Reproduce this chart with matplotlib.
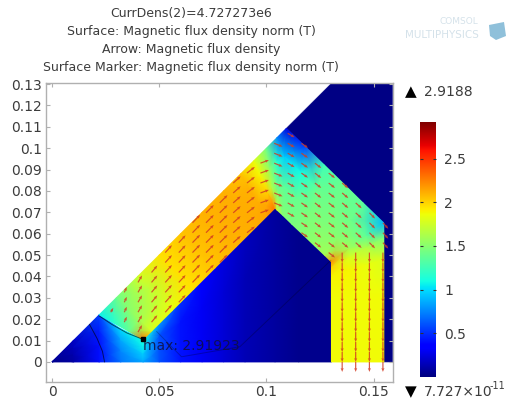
import numpy as np
import matplotlib
matplotlib.use('Agg')
import matplotlib.pyplot as plt
from matplotlib.cm import ScalarMappable
from matplotlib.colors import Normalize
from matplotlib.patches import Polygon
from matplotlib.path import Path

b_min = 0.0
b_max = 2.9188
x_ticks = [0, 0.05, 0.1, 0.15]
x_labels = ['0', '0.05', '0.1', '0.15']
y_ticks = [0, 0.01, 0.02, 0.03, 0.04, 0.05, 0.06, 0.07, 0.08, 0.09, 0.1, 0.11, 0.12, 0.13]
y_labels = ['0', '0.01', '0.02', '0.03', '0.04', '0.05', '0.06', '0.07', '0.08', '0.09', '0.1', '0.11', '0.12', '0.13']
cbar_ticks = [0.5, 1, 1.5, 2, 2.5]
cbar_labels = ['0.5', '1', '1.5', '2', '2.5']

title_lines = 'CurrDens(2)=4.727273e6\nSurface: Magnetic flux density norm (T)\nArrow: Magnetic flux density\nSurface Marker: Magnetic flux density norm (T)'

# iron yoke, stations along the band (outer edge -> inner edge)
iron_outer_x = [0.022, 0.03, 0.04, 0.05, 0.06, 0.07, 0.08, 0.088, 0.094, 0.1, 0.105, 0.1093, 0.118, 0.127, 0.136, 0.145, 0.1547, 0.1547, 0.1547, 0.1547, 0.1547]
iron_outer_y = [0.022, 0.03, 0.04, 0.05, 0.06, 0.07, 0.08, 0.088, 0.094, 0.1, 0.105, 0.1093, 0.1008, 0.0921, 0.0833, 0.0744, 0.065, 0.058, 0.048, 0.03, 0]
iron_inner_x = [0.0425, 0.0465, 0.056, 0.066, 0.076, 0.086, 0.095, 0.1, 0.104, 0.104, 0.105, 0.1075, 0.112, 0.1175, 0.1225, 0.127, 0.1303, 0.1303, 0.1303, 0.1303, 0.1303]
iron_inner_y = [0.0105, 0.0145, 0.024, 0.034, 0.044, 0.054, 0.063, 0.068, 0.072, 0.072, 0.071, 0.0687, 0.0643, 0.0591, 0.0543, 0.05, 0.0468, 0.044, 0.04, 0.03, 0]
iron_b = [
    [1.05, 1.15, 1.35, 2.3],
    [1.4, 1.5, 1.6, 1.8],
    [1.75, 1.7, 1.75, 1.85],
    [1.95, 1.95, 1.95, 1.95],
    [2.05, 2.05, 2.05, 2.05],
    [2.1, 2.1, 2.1, 2.1],
    [2.1, 2.12, 2.12, 2.12],
    [2.05, 2.1, 2.12, 2.15],
    [1.85, 1.9, 2.0, 2.3],
    [1.4, 1.55, 1.65, 2.2],
    [0.75, 1.15, 1.4, 1.7],
    [0.25, 0.95, 1.35, 1.5],
    [0.55, 1.1, 1.38, 1.45],
    [1.25, 1.38, 1.45, 1.5],
    [1.4, 1.42, 1.48, 1.55],
    [1.35, 1.42, 1.5, 1.6],
    [0.9, 1.35, 1.6, 2.2],
    [1.45, 1.65, 1.8, 2.0],
    [1.8, 1.85, 1.9, 1.9],
    [1.88, 1.88, 1.88, 1.88],
    [1.88, 1.88, 1.88, 1.88],
]

# air under the band, columns from y=0 up to the iron edge
air_x = [0, 0.01, 0.022, 0.032, 0.0425, 0.05, 0.06, 0.07, 0.08, 0.09, 0.104, 0.115, 0.1303]
air_top = [0, 0.01, 0.022, 0.0155, 0.0105, 0.018, 0.028, 0.038, 0.048, 0.058, 0.072, 0.0615, 0.0468]
air_b = [
    [0.03, 0.03, 0.03, 0.03],
    [0.1, 0.12, 0.15, 0.18],
    [0.4, 0.4, 0.45, 0.55],
    [0.7, 0.75, 0.85, 1.0],
    [0.85, 0.95, 1.05, 1.1],
    [0.6, 0.6, 0.6, 0.8],
    [0.42, 0.42, 0.42, 0.5],
    [0.3, 0.3, 0.3, 0.34],
    [0.22, 0.22, 0.22, 0.25],
    [0.14, 0.14, 0.14, 0.16],
    [0.08, 0.08, 0.08, 0.08],
    [0.04, 0.04, 0.04, 0.04],
    [0.04, 0.04, 0.04, 0.04],
]

# air outside the yoke
outer_x = [0.1093, 0.1305, 0.1587, 0.1587, 0.1547, 0.1547]
outer_y = [0.1093, 0.1305, 0.1305, 0, 0, 0.065]

# thin contour lines
contour1_x = [0.0175, 0.021, 0.0235, 0.0245]
contour1_y = [0.0175, 0.011, 0.005, 0]
contour2_x = [0.022, 0.028, 0.035, 0.0425]
contour2_y = [0.0215, 0.0175, 0.0135, 0.0105]
contour3_x = [0.0488, 0.0604, 0.0876, 0.13]
contour3_y = [0.0142, 0.0024, 0.0071, 0.0475]

# arrow grid, one angle and length per column
arrow_cols = [0.1543, 0.148, 0.1416, 0.1353, 0.129, 0.1226, 0.1163, 0.1099, 0.1036, 0.0972, 0.0909, 0.0845, 0.0782, 0.0718, 0.0655, 0.0591, 0.0528, 0.0464, 0.0401, 0.0337, 0.0274]
arrow_deg = [-48, -45, -42, -40, -38, -38, -35, -30, -22, 20, 38, 42, 45, 45, 46, 47, 48, 50, 60, 65, 60]
arrow_len = [8, 8, 8, 8, 8, 8, 8, 8, 9, 9, 10, 10, 11, 11, 11, 10, 10, 9, 8, 6, 5]
arrow_rows = [0, 0.00465, 0.0093, 0.01395, 0.0186, 0.02325, 0.0279, 0.03255, 0.0372, 0.04185, 0.0465, 0.05115, 0.0558, 0.06045, 0.0651, 0.06975, 0.0744, 0.07905, 0.0837, 0.08835, 0.093, 0.09765, 0.1023, 0.10695]
limb_top = 0.052
limb_deg = -90
limb_len = 10

max_x = 0.0422
max_y = 0.0105
max_label = 'max: 2.91923'

plt.rcParams['font.family'] = 'DejaVu Sans'
text_color = '#3c3c3c'
frame_color = '#b0b0b0'
arrow_color = '#d23a22'

fig = plt.figure(figsize=(5.11, 4.01), dpi=100)
ax = fig.add_axes([46 / 511, 1 - 382 / 401, 347 / 511, 299 / 401])
ax.set_xlim(-0.0028, 0.159)
ax.set_ylim(-0.0094, 0.1305)

norm = Normalize(b_min, b_max)
frac = np.array([0, 1 / 3, 2 / 3, 1])

ax.fill(outer_x, outer_y, color=plt.cm.jet(0.005), lw=0.5)

# air mesh
air_X = np.outer(air_x, np.ones(4))
air_Y = np.outer(air_top, frac)
ax.pcolormesh(air_X, air_Y, np.array(air_b), cmap='jet', norm=norm, shading='gouraud')

# iron mesh
ox = np.array(iron_outer_x)
oy = np.array(iron_outer_y)
ix = np.array(iron_inner_x)
iy = np.array(iron_inner_y)
iron_X = ox[:, None] + (ix - ox)[:, None] * frac
iron_Y = oy[:, None] + (iy - oy)[:, None] * frac
ax.pcolormesh(iron_X, iron_Y, np.array(iron_b), cmap='jet', norm=norm, shading='gouraud')

for cx, cy, a in [(contour1_x, contour1_y, 0.6), (contour2_x, contour2_y, 0.6), (contour3_x, contour3_y, 0.25)]:
    ax.plot(cx, cy, color='black', lw=0.7, alpha=a)

# arrows, only on the nodes inside the yoke
outline = np.column_stack([iron_outer_x + iron_inner_x[::-1], iron_outer_y + iron_inner_y[::-1]])
iron_path = Path(outline)
qx, qy, qu, qv = [], [], [], []
for col, deg, length in zip(arrow_cols, arrow_deg, arrow_len):
    for row in arrow_rows:
        on_limb = col > 0.13 and row < limb_top
        if not on_limb and not iron_path.contains_point((col, row)):
            continue
        d = limb_deg if on_limb else deg
        n = limb_len if on_limb else length
        qx.append(col)
        qy.append(row)
        qu.append(n * np.cos(np.radians(d)))
        qv.append(n * np.sin(np.radians(d)))
ax.quiver(qx, qy, qu, qv, color=arrow_color, alpha=0.85, pivot='tail', angles='uv', scale_units='dots', scale=1,
          units='dots', width=1.2, headwidth=2.6, headlength=3.2, headaxislength=2.8, zorder=3, clip_on=False)

ax.plot([max_x], [max_y], 's', color='black', ms=3, zorder=4)
ax.text(max_x + 0.0002, 0.0073, max_label, fontsize=10, color='#101040', va='center', ha='left', alpha=0.85, zorder=4)

ax.set_xticks(x_ticks)
ax.set_xticklabels(x_labels)
ax.set_yticks(y_ticks)
ax.set_yticklabels(y_labels)
ax.tick_params(direction='in', length=3, width=0.8, color=frame_color, top=True, right=True, labelsize=10, labelcolor=text_color)
ax.tick_params(axis='x', pad=2.5)
ax.tick_params(axis='y', pad=3)
for s in ax.spines.values():
    s.set_color(frame_color)
    s.set_linewidth(1)

# colour bar
cax = fig.add_axes([420 / 511, 1 - 377 / 401, 16 / 511, 255 / 401])
cb = fig.colorbar(ScalarMappable(norm=norm, cmap='jet'), cax=cax)
cb.set_ticks(cbar_ticks)
cb.set_ticklabels(cbar_labels)
cb.outline.set_visible(False)
cax.tick_params(direction='in', length=2, width=0.8, color='#333333', left=True, right=True, labelsize=10, labelcolor=text_color, pad=6)

fig.text(191 / 511, 1 - 40 / 401, title_lines, fontsize=9, color=text_color, ha='center', va='center', linespacing=1.5)

fig.text(411 / 511, 1 - 92 / 401, '▲', fontsize=11, color='black', ha='center', va='center')
fig.text(424 / 511, 1 - 92 / 401, '2.9188', fontsize=10, color=text_color, ha='left', va='center')
fig.text(411 / 511, 1 - 392 / 401, '▼', fontsize=11, color='black', ha='center', va='center')
fig.text(424 / 511, 1 - 392 / 401, '7.727×10', fontsize=10, color=text_color, ha='left', va='center')
fig.text(490 / 511, 1 - 386 / 401, '-11', fontsize=7, color=text_color, ha='left', va='center')

# faint logo
fig.text(478 / 511, 1 - 22 / 401, 'COMSOL', fontsize=6.5, color='#d5e2ea', ha='right', va='center')
fig.text(479 / 511, 1 - 35 / 401, 'MULTIPHYSICS', fontsize=7.5, color='#d5e2ea', ha='right', va='center')
icon = [(489, 25), (504, 22), (506, 36), (496, 40), (490, 36)]
fig.add_artist(Polygon([(p[0] / 511, 1 - p[1] / 401) for p in icon], transform=fig.transFigure, color='#8fc0da', lw=0))

plt.savefig('out.png', dpi=100)
